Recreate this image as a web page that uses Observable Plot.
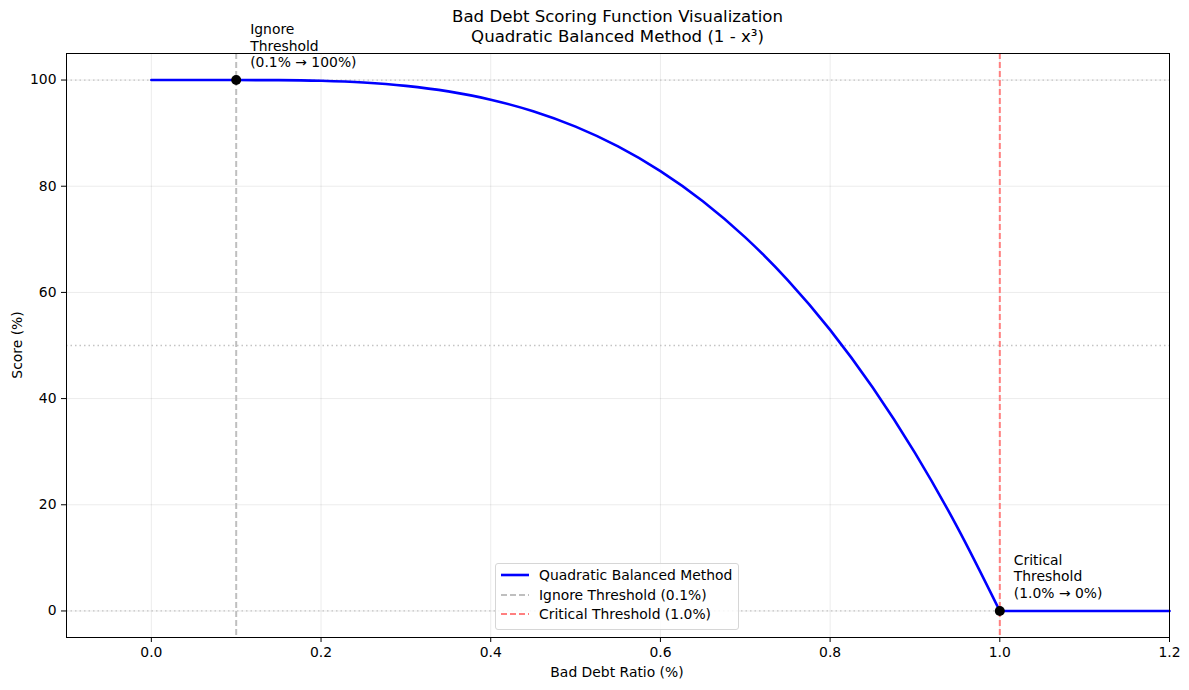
<!DOCTYPE html>
<html>
<head>
<meta charset="utf-8">
<script src="https://cdn.jsdelivr.net/npm/d3@7"></script>
<script src="https://cdn.jsdelivr.net/npm/@observablehq/plot@0.6"></script>
<style>
  body { margin: 0; background: #fff; font-family: "DejaVu Sans", sans-serif; }
  #wrap { position: relative; width: 1189px; height: 690px; }
  #title { position: absolute; left: 66px; width: 1103px; top: 7px; text-align: center; font-size: 16.6px; line-height: 20px; color: #000; }
  #legend { position: absolute; left: 495px; top: 563px; width: 244px; height: 67px; border: 1px solid #d6d6d6; border-radius: 3px; background: rgba(255,255,255,0.85); font-size: 13.9px; color: #000; box-sizing: border-box; }
  .row { position: absolute; left: 0; height: 19px; display: flex; align-items: center; }
  .row svg { margin-left: 5px; margin-right: 10px; }
</style>
</head>
<body>
<div id="wrap">
  <div id="chart"></div>
  <div id="title">Bad Debt Scoring Function Visualization<br>Quadratic Balanced Method (1 - x³)</div>
  <div id="legend"></div>
</div>
<script>
// Data
const curveX = [0, 0.05, 0.1, 0.15, 0.2, 0.25, 0.3, 0.35, 0.4, 0.45, 0.5, 0.55, 0.6, 0.65, 0.7, 0.75, 0.8, 0.85, 0.9, 0.95, 1.0];
const curveY = [100, 100, 100, 99.98, 99.86, 99.54, 98.9, 97.86, 96.3, 94.12, 91.22, 87.5, 82.85, 77.18, 70.37, 62.33, 52.95, 42.13, 29.77, 15.76, 0];
const tailX = [1.0, 1.1, 1.2];
const tailY = [0, 0, 0];
const thresholdX = [0.1, 1.0];
const thresholdY = [100, 0];
const refLinesY = [0, 50, 100];
const xTicks = [0, 0.2, 0.4, 0.6, 0.8, 1.0, 1.2];
const yTicks = [0, 20, 40, 60, 80, 100];
const annotations = ["Ignore\nThreshold\n(0.1% → 100%)", "Critical\nThreshold\n(1.0% → 0%)"];
const legendLabels = ["Quadratic Balanced Method", "Ignore Threshold (0.1%)", "Critical Threshold (1.0%)"];

const curve = curveX.map((x, i) => ({x, y: curveY[i]}));
const tail = tailX.map((x, i) => ({x, y: tailY[i]}));
const pts = thresholdX.map((x, i) => ({x, y: thresholdY[i], label: annotations[i]}));

const chart = Plot.plot({
  width: 1189,
  height: 690,
  marginLeft: 66,
  marginRight: 20,
  marginTop: 53,
  marginBottom: 53,
  style: {fontFamily: "DejaVu Sans, sans-serif", fontSize: "13.9px", color: "#000", background: "#fff"},
  x: {domain: [-0.1, 1.2]},
  y: {domain: [-5, 105]},
  marks: [
    Plot.gridX(xTicks, {stroke: "#000", strokeOpacity: 0.1, strokeWidth: 0.8}),
    Plot.gridY(yTicks, {stroke: "#000", strokeOpacity: 0.1, strokeWidth: 0.8}),
    Plot.ruleY(refLinesY, {stroke: "#c4c4c4", strokeWidth: 1.3, strokeDasharray: "1.5,3"}),
    Plot.ruleX([thresholdX[0]], {stroke: "#bfbfbf", strokeWidth: 2, strokeDasharray: "6,3"}),
    Plot.ruleX([thresholdX[1]], {stroke: "#ff7f7f", strokeWidth: 2, strokeDasharray: "6,3"}),
    Plot.line(curve, {x: "x", y: "y", stroke: "#0000ff", strokeWidth: 2.6, curve: "monotone-x"}),
    Plot.line(tail, {x: "x", y: "y", stroke: "#0000ff", strokeWidth: 2.6}),
    Plot.dot(pts, {x: "x", y: "y", r: 5, fill: "#000", stroke: "none"}),
    Plot.text(pts, {x: "x", y: "y", text: "label", textAnchor: "start", lineAnchor: "bottom", dx: 14, dy: -13, fontSize: 13.9, lineHeight: 1.19, fill: "#000"}),
    Plot.frame({stroke: "#000", strokeWidth: 1}),
    Plot.axisX({ticks: xTicks, tickFormat: d3.format(".1f"), tickSize: 5, tickPadding: 5, fontSize: 13.9, label: null}),
    Plot.axisY({ticks: yTicks, tickSize: 5, tickPadding: 5, fontSize: 13.9, label: null})
  ]
});
document.getElementById("chart").appendChild(chart);

const svg = d3.select(chart);
svg.append("text").attr("x", 617).attr("y", 677).attr("text-anchor", "middle").attr("font-size", 13.9).text("Bad Debt Ratio (%)");
svg.append("text").attr("transform", "translate(22,345) rotate(-90)").attr("text-anchor", "middle").attr("font-size", 13.9).text("Score (%)");

// legend
const legend = document.getElementById("legend");
const styles = [
  {stroke: "#0000ff", dash: null, w: 2.6},
  {stroke: "#bfbfbf", dash: "6,3", w: 2},
  {stroke: "#ff7f7f", dash: "6,3", w: 2}
];
legendLabels.forEach((lab, i) => {
  const row = document.createElement("div");
  row.className = "row";
  row.style.top = (1.5 + i * 19.5) + "px";
  const s = styles[i];
  row.innerHTML = `<svg width="28" height="10"><line x1="0" x2="28" y1="5" y2="5" stroke="${s.stroke}" stroke-width="${s.w}" ${s.dash ? `stroke-dasharray="${s.dash}"` : ""}/></svg><span>${lab}</span>`;
  legend.appendChild(row);
});
</script>
</body>
</html>
